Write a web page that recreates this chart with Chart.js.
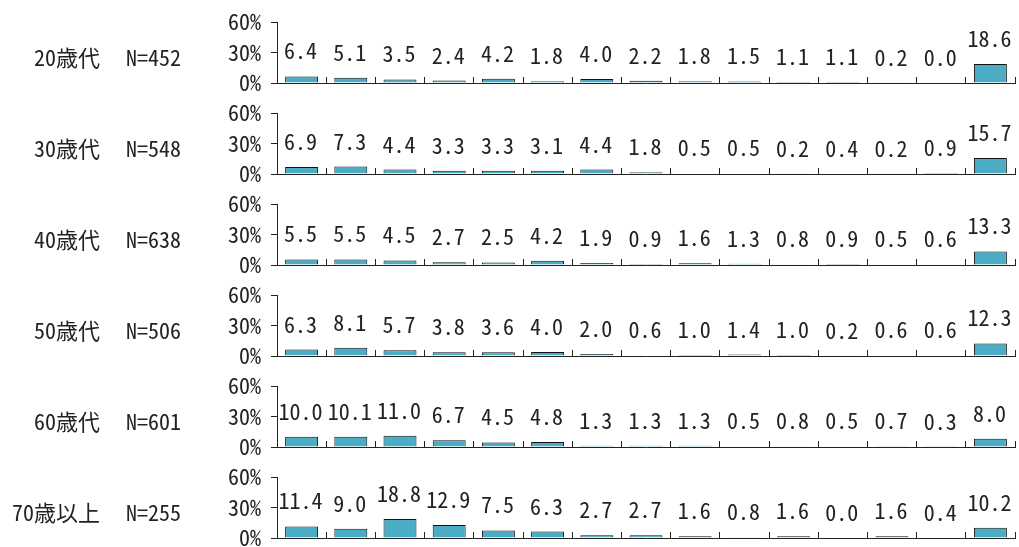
<!DOCTYPE html>
<html>
<head>
<meta charset="utf-8">
<script src="https://cdn.jsdelivr.net/npm/chart.js@4/dist/chart.umd.min.js"></script>
<style>
    body { margin: 0; background: #fff; }
    #wrap { position: relative; width: 1019px; height: 547px; overflow: hidden; }
    .panel { position: absolute; left: 0; width: 1019px; height: 91px; }
    .panel canvas { position: absolute; left: 0; top: 0; }
    .name, .count {
        position: absolute;
        font-family: 'Noto Sans Mono CJK JP', 'Noto Sans CJK JP', monospace;
        font-size: 22px;
        line-height: 22px;
        color: #222;
        white-space: nowrap;
    }
    .name { right: 919px; text-align: right; }
    .count { left: 126px; }
</style>
</head>
<body>
<div id="wrap"></div>
<script>
const ageGroups = ['20歳代', '30歳代', '40歳代', '50歳代', '60歳代', '70歳以上'];
const sampleSizes = [452, 548, 638, 506, 601, 255];
const categories = ['1', '2', '3', '4', '5', '6', '7', '8', '9', '10', '11', '12', '13', '14', '15'];
const yTicks = [0, 30, 60];

const values20s = [6.4, 5.1, 3.5, 2.4, 4.2, 1.8, 4.0, 2.2, 1.8, 1.5, 1.1, 1.1, 0.2, 0.0, 18.6];
const values30s = [6.9, 7.3, 4.4, 3.3, 3.3, 3.1, 4.4, 1.8, 0.5, 0.5, 0.2, 0.4, 0.2, 0.9, 15.7];
const values40s = [5.5, 5.5, 4.5, 2.7, 2.5, 4.2, 1.9, 0.9, 1.6, 1.3, 0.8, 0.9, 0.5, 0.6, 13.3];
const values50s = [6.3, 8.1, 5.7, 3.8, 3.6, 4.0, 2.0, 0.6, 1.0, 1.4, 1.0, 0.2, 0.6, 0.6, 12.3];
const values60s = [10.0, 10.1, 11.0, 6.7, 4.5, 4.8, 1.3, 1.3, 1.3, 0.5, 0.8, 0.5, 0.7, 0.3, 8.0];
const values70s = [11.4, 9.0, 18.8, 12.9, 7.5, 6.3, 2.7, 2.7, 1.6, 0.8, 1.6, 0.0, 1.6, 0.4, 10.2];

const seriesList = [values20s, values30s, values40s, values50s, values60s, values70s];

const FONT = "'Noto Sans Mono CJK JP', 'Noto Sans CJK JP', monospace";
const PANEL_H = 91;

// writes the value above each bar
const valueLabels = {
    id: 'valueLabels',
    afterDatasetsDraw(chart) {
        const ctx = chart.ctx;
        const meta = chart.getDatasetMeta(0);
        const data = chart.data.datasets[0].data;
        ctx.save();
        ctx.font = '22px ' + FONT;
        ctx.fillStyle = '#222';
        ctx.textAlign = 'center';
        ctx.textBaseline = 'alphabetic';
        meta.data.forEach((bar, i) => {
            ctx.fillText(data[i].toFixed(1), bar.x - 1, bar.y - 17);
        });
        ctx.restore();
    }
};

document.addEventListener('DOMContentLoaded', function() {
    const wrap = document.getElementById('wrap');

    seriesList.forEach((values, p) => {
        const panel = document.createElement('div');
        panel.className = 'panel';
        panel.style.top = (p * PANEL_H) + 'px';

        const canvas = document.createElement('canvas');
        canvas.width = 1019;
        canvas.height = PANEL_H;

        const name = document.createElement('div');
        name.className = 'name';
        name.style.top = '45px';
        name.textContent = ageGroups[p];
        const count = document.createElement('div');
        count.className = 'count';
        count.style.top = '45px';
        count.textContent = 'N=' + sampleSizes[p];

        panel.appendChild(canvas);
        panel.appendChild(name);
        panel.appendChild(count);
        wrap.appendChild(panel);

        new Chart(canvas.getContext('2d'), {
            type: 'bar',
            data: {
                labels: categories,
                datasets: [{
                    data: values,
                    backgroundColor: '#4BACC6',
                    borderColor: '#111',
                    borderWidth: 1,
                    borderSkipped: 'start',
                    barPercentage: 0.67,
                    categoryPercentage: 1
                }]
            },
            options: {
                responsive: false,
                animation: false,
                events: [],
                layout: { padding: { left: 0, right: 4, top: 22, bottom: 8 } },
                plugins: {
                    legend: { display: false },
                    tooltip: { enabled: false }
                },
                scales: {
                    x: {
                        offset: true,
                        afterFit: s => { s.height = 0; },
                        ticks: { display: false },
                        grid: {
                            offset: true,
                            drawOnChartArea: false,
                            drawTicks: true,
                            tickLength: -6,
                            color: '#222'
                        },
                        border: { color: '#222', width: 1 }
                    },
                    y: {
                        min: 0,
                        max: 60,
                        afterFit: s => {
                            s.width = 277;
                            s.paddingTop = 0;
                            s.paddingBottom = 0;
                        },
                        afterBuildTicks: s => { s.ticks = yTicks.map(v => ({ value: v })); },
                        ticks: {
                            callback: v => v + '%',
                            padding: 10,
                            color: '#222',
                            font: { family: FONT, size: 22 }
                        },
                        grid: {
                            drawOnChartArea: false,
                            tickLength: 6,
                            color: '#222'
                        },
                        border: { color: '#222', width: 1 }
                    }
                }
            },
            plugins: [valueLabels]
        });
    });
});
</script>
</body>
</html>
